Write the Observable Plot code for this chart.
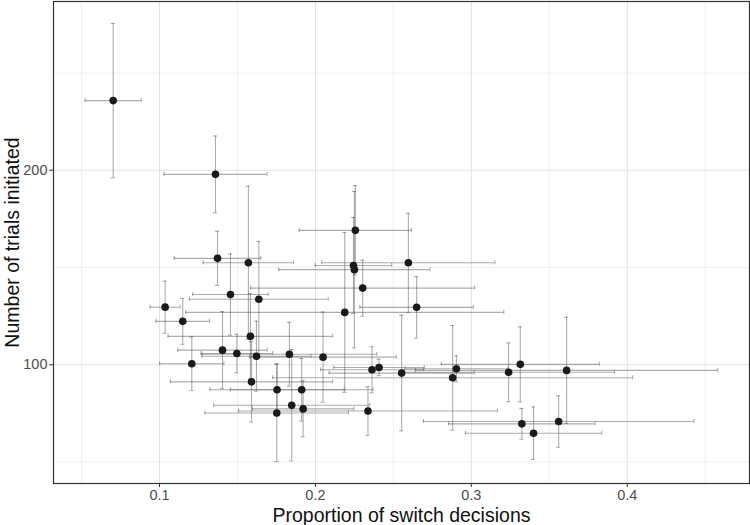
<!DOCTYPE html>
<html>
<head>
<meta charset="utf-8">
<script src="https://cdn.jsdelivr.net/npm/d3@7"></script>
<script src="https://cdn.jsdelivr.net/npm/@observablehq/plot@0.6"></script>
<style>
  html, body { margin: 0; padding: 0; background: #fff; }
</style>
</head>
<body>
<div id="chart"></div>
<script>
// Proportion of switch decisions (mean) and its error
const propSwitch = [0.0703, 0.1359, 0.1372, 0.157, 0.1036, 0.1149, 0.1455, 0.1637, 0.2256, 0.2244,
  0.225, 0.2596, 0.2303, 0.2649, 0.2188, 0.1583, 0.1404, 0.1496, 0.1622, 0.1833,
  0.2049, 0.1207, 0.159, 0.1754, 0.1912, 0.1848, 0.1921, 0.1752, 0.2337, 0.2363,
  0.2408, 0.2553, 0.2904, 0.288, 0.3239, 0.3314, 0.3611, 0.3324, 0.3399, 0.356];
const propSwitchErr = [0.018, 0.033, 0.0278, 0.029, 0.0096, 0.0172, 0.0242, 0.0445, 0.036, 0.0245,
  0.0485, 0.0555, 0.0718, 0.0364, 0.102, 0.0528, 0.0287, 0.023, 0.035, 0.056,
  0.047, 0.0206, 0.052, 0.043, 0.0457, 0.05, 0.0325, 0.046, 0.083, 0.033,
  0.029, 0.0465, 0.033, 0.1154, 0.068, 0.0507, 0.097, 0.047, 0.0437, 0.0867];
// Number of trials initiated (mean) and its error
const trials = [235.8, 197.9, 154.7, 152.4, 129.6, 122.3, 136.1, 133.7, 169.1, 151.0,
  148.9, 152.4, 139.4, 129.5, 126.9, 114.6, 107.5, 105.8, 104.4, 105.4,
  103.9, 100.5, 91.2, 87.1, 87.1, 79.2, 77.3, 75.2, 76.2, 97.4,
  98.6, 95.7, 97.9, 93.3, 96.1, 100.2, 97.1, 69.6, 64.8, 70.8];
const trialsErr = [39.7, 19.7, 13.9, 39.4, 13.4, 11.8, 20.9, 29.7, 23, 24.7,
  40.2, 25.5, 14.4, 15.8, 41.1, 22, 19.8, 9.9, 18, 16.4,
  23.2, 13.8, 20.7, 13.4, 16.1, 28.6, 14.4, 25, 12.5, 11.8,
  4.2, 29.7, 6.7, 26.9, 15.1, 19.3, 27.3, 7.9, 13.5, 13.25];

const xTicks = [0.1, 0.2, 0.3, 0.4];
const xMinor = [0.05, 0.15, 0.25, 0.35, 0.45];
const yTicks = [100, 200];
const yMinor = [50, 150, 250];
const xTitle = "Proportion of switch decisions";
const yTitle = "Number of trials initiated";

const data = propSwitch.map((x, i) => ({
  x, y: trials[i], ex: propSwitchErr[i], ey: trialsErr[i]
}));

function expanded(lo, hi) {
  const pad = (hi - lo) * 0.05;
  return [lo - pad, hi + pad];
}
const xDomain = expanded(d3.min(data, d => d.x - d.ex), d3.max(data, d => d.x + d.ex));
const yDomain = expanded(d3.min(data, d => d.y - d.ey), d3.max(data, d => d.y + d.ey));

const barStroke = "#4a4a4a";
const barOpacity = 0.45;
const cap = -2;

const chart = Plot.plot({
  width: 750,
  height: 525,
  marginLeft: 53,
  marginRight: 1,
  marginTop: 1,
  marginBottom: 42,
  style: { fontFamily: "Liberation Sans, Arial, sans-serif", background: "#fff" },
  x: { domain: xDomain },
  y: { domain: yDomain },
  marks: [
    Plot.gridX(xMinor, { stroke: "#ececec", strokeOpacity: 1, strokeWidth: 0.8 }),
    Plot.gridY(yMinor, { stroke: "#ececec", strokeOpacity: 1, strokeWidth: 0.8 }),
    Plot.gridX(xTicks, { stroke: "#e3e3e3", strokeOpacity: 1, strokeWidth: 1 }),
    Plot.gridY(yTicks, { stroke: "#e3e3e3", strokeOpacity: 1, strokeWidth: 1 }),
    // horizontal error bars
    Plot.ruleY(data, { y: "y", x1: d => d.x - d.ex, x2: d => d.x + d.ex, stroke: barStroke, strokeOpacity: barOpacity, strokeWidth: 1.1 }),
    Plot.ruleX(data, { x: d => d.x - d.ex, y1: "y", y2: "y", insetTop: cap, insetBottom: cap, stroke: barStroke, strokeOpacity: barOpacity, strokeWidth: 1.1 }),
    Plot.ruleX(data, { x: d => d.x + d.ex, y1: "y", y2: "y", insetTop: cap, insetBottom: cap, stroke: barStroke, strokeOpacity: barOpacity, strokeWidth: 1.1 }),
    // vertical error bars
    Plot.ruleX(data, { x: "x", y1: d => d.y - d.ey, y2: d => d.y + d.ey, stroke: barStroke, strokeOpacity: barOpacity, strokeWidth: 1.1 }),
    Plot.ruleY(data, { y: d => d.y - d.ey, x1: "x", x2: "x", insetLeft: cap, insetRight: cap, stroke: barStroke, strokeOpacity: barOpacity, strokeWidth: 1.1 }),
    Plot.ruleY(data, { y: d => d.y + d.ey, x1: "x", x2: "x", insetLeft: cap, insetRight: cap, stroke: barStroke, strokeOpacity: barOpacity, strokeWidth: 1.1 }),
    Plot.dot(data, { x: "x", y: "y", r: 3.8, fill: "#1a1a1a", stroke: "none" }),
    Plot.frame({ stroke: "#333", strokeWidth: 1.2 }),
    Plot.axisX(xTicks, { tickSize: 4, tickPadding: 2, stroke: "#333", fill: "#4d4d4d", fontSize: 14.5, label: null, tickFormat: d3.format(".1f") }),
    Plot.axisY(yTicks, { tickSize: 4, tickPadding: 2, stroke: "#333", fill: "#4d4d4d", fontSize: 14.5, label: null }),
    Plot.text([xTitle], { frameAnchor: "bottom", dy: 38, fontSize: 19.5, fill: "#111", textAnchor: "middle" }),
    Plot.text([yTitle], { frameAnchor: "left", dx: -41, rotate: -90, fontSize: 19.5, fill: "#111", textAnchor: "middle" })
  ]
});

document.getElementById("chart").appendChild(chart);
</script>
</body>
</html>
